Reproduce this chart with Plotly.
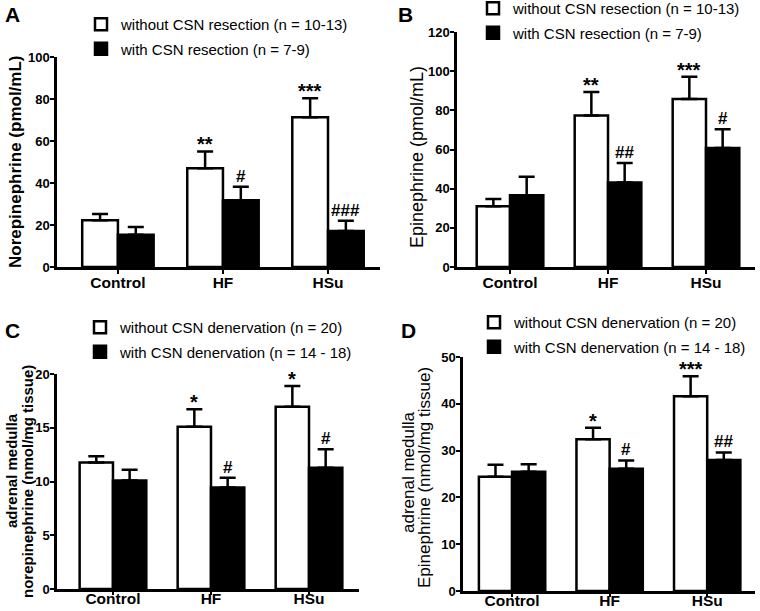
import plotly.graph_objects as go

W, H = 760, 611
FONT = "Liberation Sans"

categories = ["Control", "HF", "HSu"]

# Panel A: plasma norepinephrine (pmol/mL)
A_without = [22.3, 47.0, 71.3]
A_without_err = [2.9, 8.0, 9.0]
A_with = [15.4, 31.8, 17.2]
A_with_err = [3.7, 6.4, 4.8]
A_without_sig = ["", "**", "***"]
A_with_sig = ["", "#", "###"]

# Panel B: plasma epinephrine (pmol/mL)
B_without = [31.0, 77.4, 85.8]
B_without_err = [3.7, 12.0, 11.4]
B_with = [36.6, 43.2, 60.8]
B_with_err = [9.5, 9.9, 9.5]
B_without_sig = ["", "**", "***"]
B_with_sig = ["", "##", "#"]

# Panel C: adrenal medulla norepinephrine (nmol/mg tissue)
C_without = [11.77, 15.09, 16.96]
C_without_err = [0.59, 1.62, 1.92]
C_with = [10.09, 9.44, 11.27]
C_with_err = [1.0, 0.9, 1.74]
C_without_sig = ["", "*", "*"]
C_with_sig = ["", "#", "#"]

# Panel D: adrenal medulla epinephrine (nmol/mg tissue)
D_without = [24.4, 32.4, 41.6]
D_without_err = [2.6, 2.5, 4.3]
D_with = [25.5, 26.1, 28.0]
D_with_err = [1.6, 1.8, 1.6]
D_without_sig = ["", "*", "***"]
D_with_sig = ["", "#", "##"]

labels_resection = ["without CSN resection (n = 10-13)", "with CSN resection (n = 7-9)"]
labels_denervation = ["without CSN denervation (n = 20)", "with CSN denervation (n = 14 - 18)"]

BARGAP = 0.32
HALF = (1 - BARGAP) / 4  # offset of each bar centre from the category centre

panels = [
    dict(k="", wo=A_without, woe=A_without_err, wi=A_with, wie=A_with_err,
         swo=A_without_sig, swi=A_with_sig, labels=labels_resection, legend="legend",
         yr=[0, 100], dt=20, xd=(57, 380), yd=(267, 57), xr=[-0.58, 2.495],
         xtl=4, stand=-4),
    dict(k="2", wo=B_without, woe=B_without_err, wi=B_with, wie=B_with_err,
         swo=B_without_sig, swi=B_with_sig, labels=labels_resection, legend="legend2",
         yr=[0, 120], dt=20, xd=(457, 755), yd=(267, 32), xr=[-0.541, 2.5],
         xtl=4, stand=-4),
    dict(k="3", wo=C_without, woe=C_without_err, wi=C_with, wie=C_with_err,
         swo=C_without_sig, swi=C_with_sig, labels=labels_denervation, legend="legend3",
         yr=[0, 20], dt=5, xd=(57, 359), yd=(589, 374), xr=[-0.571, 2.51],
         xtl=3, stand=-9),
    dict(k="4", wo=D_without, woe=D_without_err, wi=D_with, wie=D_with_err,
         swo=D_without_sig, swi=D_with_sig, labels=labels_denervation, legend="legend4",
         yr=[0, 50], dt=10, xd=(463, 755), yd=(591, 357), xr=[-0.503, 2.49],
         xtl=3, stand=-9),
]

fig = go.Figure()
annotations = []
layout = {}

for p in panels:
    k = p["k"]
    xa, ya = "x" + k, "y" + k
    for vals, errs, color, name, sig, sgn in [
        (p["wo"], p["woe"], "white", p["labels"][0], p["swo"], -1),
        (p["wi"], p["wie"], "black", p["labels"][1], p["swi"], 1),
    ]:
        fig.add_trace(go.Bar(
            x=categories, y=vals, name=name, xaxis=xa, yaxis=ya,
            legend=p["legend"], legendgroup=p["legend"] + name,
            marker=dict(color=color, line=dict(color="black", width=2.5)),
            error_y=dict(type="data", symmetric=False, array=errs,
                         arrayminus=[0] * len(errs), color="black",
                         thickness=2.5, width=8),
        ))
        for i, s in enumerate(sig):
            if s:
                star = s.startswith("*")
                annotations.append(dict(
                    x=i + sgn * HALF, y=vals[i] + errs[i], xref=xa, yref=ya,
                    text=s, showarrow=False, yanchor="bottom",
                    yshift=-6 if star else -1,
                    font=dict(family=FONT, size=20 if star else 17, color="black",
                              weight="bold"),
                ))
    x0, x1 = p["xd"]
    yb, yt = p["yd"]
    layout["xaxis" + k] = dict(
        domain=[x0 / W, x1 / W], range=p["xr"], anchor=ya, type="category",
        showline=True, linecolor="black", linewidth=2.5, ticks="outside",
        ticklen=p["xtl"], tickwidth=2, tickcolor="black", showgrid=False, zeroline=False,
        ticklabelstandoff=p["stand"],
        tickfont=dict(family=FONT, size=15.5, color="black", weight="bold"),
        fixedrange=True,
    )
    layout["yaxis" + k] = dict(
        domain=[1 - yb / H, 1 - yt / H], range=p["yr"], dtick=p["dt"], anchor=xa,
        showline=True, linecolor="black", linewidth=2.5, ticks="outside",
        ticklen=4, tickwidth=2, tickcolor="black", showgrid=False, zeroline=False,
        ticklabelstandoff=-2,
        tickfont=dict(family=FONT, size=13, color="black", weight="bold"),
        fixedrange=True,
    )

# Legends (one per panel)
def legend_at(xpx, ypx):
    return dict(x=xpx / W, y=1 - ypx / H, xanchor="left", yanchor="top",
                bgcolor="rgba(0,0,0,0)", borderwidth=0,
                font=dict(family=FONT, size=15, color="black"),
                traceorder="grouped", tracegroupgap=2, itemwidth=30)

layout["legend"] = legend_at(81, 8)
layout["legend2"] = legend_at(473, -8)
layout["legend3"] = legend_at(80, 311)
layout["legend4"] = legend_at(474, 306)

# Panel letters
for letter, xp, yp in [("A", 3, 1), ("B", 396, 1), ("C", 3, 317), ("D", 399, 317)]:
    annotations.append(dict(x=xp / W, y=1 - yp / H, xref="paper", yref="paper",
                            xanchor="left", yanchor="top", text=letter, showarrow=False,
                            font=dict(family=FONT, size=21, color="black", weight="bold")))

# Y-axis titles (one annotation per line)
titles = [
    ("Norepinephrine (pmol/mL)", 16, 162, "bold", 17),
    ("Epinephrine (pmol/mL)", 417, 157, "normal", 18),
    ("adrenal medulla", 11, 471, "bold", 15),
    ("norepinephrine (nmol/mg tissue)", 27, 482, "bold", 15),
    ("adrenal medulla", 408, 472, "normal", 17),
    ("Epinephrine (nmol/mg tissue)", 424, 477, "normal", 17),
]
for txt, xp, yp, wt, sz in titles:
    annotations.append(dict(x=xp / W, y=1 - yp / H, xref="paper", yref="paper",
                            xanchor="center", yanchor="middle", text=txt, textangle=-90,
                            showarrow=False,
                            font=dict(family=FONT, size=sz, color="black", weight=wt)))

fig.update_layout(
    width=W, height=H, margin=dict(l=0, r=0, t=0, b=0, autoexpand=False),
    paper_bgcolor="white", plot_bgcolor="white",
    barmode="group", bargap=BARGAP, bargroupgap=0,
    showlegend=True, annotations=annotations, **layout,
)

# remove the browser's default page margin so the 760x611 figure fills the window
fig.write_html("out.html", config={"displayModeBar": False},
               post_script="document.body.style.margin='0px';")
